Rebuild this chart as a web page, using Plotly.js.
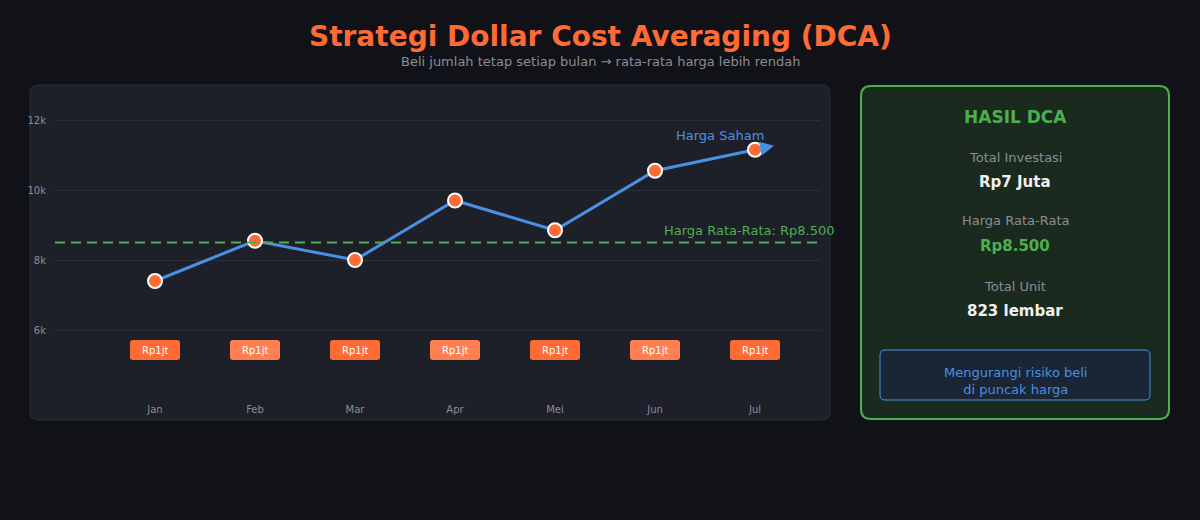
<!DOCTYPE html>
<html>
<head>
<meta charset="utf-8">
<script src="https://cdn.plot.ly/plotly-3.0.1.min.js"></script>
<style>
  html, body { margin: 0; padding: 0; background: #111217; }
  #chart { width: 1200px; height: 520px; }
</style>
</head>
<body>
<div id="chart"></div>
<script>
// Monthly share price over the DCA period
const months = ['Jan', 'Feb', 'Mar', 'Apr', 'Mei', 'Jun', 'Jul'];
const prices = [7400, 8550, 8000, 9700, 8850, 10550, 11150];
// Fixed monthly purchase (in juta rupiah)
const monthlyBuy = [1, 1, 1, 1, 1, 1, 1];
// Average purchase price and summary figures
const avgPrice = 8500;
const totalInvestJuta = 7;
const totalUnits = 823;
const yTicks = [6000, 8000, 10000, 12000];
const yTickText = ['6k', '8k', '10k', '12k'];

const W = 1200, H = 520;
const FONT = 'DejaVu Sans, sans-serif';

// convert page pixels to paper fractions
const px = v => v / W;
const py = v => 1 - v / H;

// rounded rectangle path in paper units, from pixel box
function roundRect(x0, y0, x1, y1, r) {
  const X = v => px(v).toFixed(5), Y = v => py(v).toFixed(5);
  return `M${X(x0 + r)},${Y(y0)} L${X(x1 - r)},${Y(y0)} Q${X(x1)},${Y(y0)} ${X(x1)},${Y(y0 + r)} ` +
         `L${X(x1)},${Y(y1 - r)} Q${X(x1)},${Y(y1)} ${X(x1 - r)},${Y(y1)} ` +
         `L${X(x0 + r)},${Y(y1)} Q${X(x0)},${Y(y1)} ${X(x0)},${Y(y1 - r)} ` +
         `L${X(x0)},${Y(y0 + r)} Q${X(x0)},${Y(y0)} ${X(x0 + r)},${Y(y0)} Z`;
}
// rounded rectangle path in pixels around an anchor
function pixRoundRect(w, h, r) {
  const a = w / 2, b = h / 2;
  return `M${-a + r},${-b} L${a - r},${-b} Q${a},${-b} ${a},${-b + r} L${a},${b - r} Q${a},${b} ${a - r},${b} ` +
         `L${-a + r},${b} Q${-a},${b} ${-a},${b - r} L${-a},${-b + r} Q${-a},${-b} ${-a + r},${-b} Z`;
}

const badgeColors = months.map((m, i) => i % 2 === 0 ? '#ff6b35' : '#ff7f50');
const badgeY = py(350);

const shapes = [
  // chart panel
  { type: 'path', xref: 'paper', yref: 'paper', layer: 'below', path: roundRect(30, 85, 830, 420, 8),
    fillcolor: '#1e2029', line: { color: '#2b2e38', width: 1 } },
  // summary panel
  { type: 'path', xref: 'paper', yref: 'paper', layer: 'below', path: roundRect(861, 86, 1169, 419, 10),
    fillcolor: '#1b2a1e', line: { color: '#4caf50', width: 2 } },
  // note box
  { type: 'path', xref: 'paper', yref: 'paper', layer: 'below', path: roundRect(880, 350, 1150, 400, 5),
    fillcolor: '#1a2535', line: { color: '#4a90e2', width: 1 } },
  // average price line
  { type: 'line', xref: 'paper', yref: 'y', x0: px(55), x1: px(821), y0: avgPrice, y1: avgPrice,
    line: { color: '#4caf50', width: 2, dash: '10px,6px' } }
];

// monthly purchase badges
months.forEach((m, i) => {
  shapes.push({
    type: 'path', xref: 'x', yref: 'paper', xsizemode: 'pixel', ysizemode: 'pixel',
    xanchor: m, yanchor: badgeY, path: pixRoundRect(50, 20, 3),
    fillcolor: badgeColors[i], line: { width: 0 }
  });
});

// centred text helper for page-positioned labels
function label(x, y, text, size, color) {
  return { xref: 'paper', yref: 'paper', x: px(x), y: py(y), xanchor: 'center', yanchor: 'middle',
           text: text, showarrow: false, font: { family: FONT, size: size, color: color } };
}

const annotations = [
  label(600, 37, '<b>Strategi Dollar Cost Averaging (DCA)</b>', 28, '#ff6b35'),
  label(600, 61, 'Beli jumlah tetap setiap bulan → rata-rata harga lebih rendah', 13, '#8a8d96'),
  // series label next to the last point
  { xref: 'x', yref: 'y', x: months[months.length - 1], y: prices[prices.length - 1], xshift: -35, yshift: 14,
    xanchor: 'center', yanchor: 'middle',
    text: 'Harga Saham', showarrow: false, font: { family: FONT, size: 13, color: '#4a90e2' } },
  // average line label
  { xref: 'paper', yref: 'y', x: px(836), y: avgPrice, xanchor: 'right', yanchor: 'bottom', yshift: 3,
    text: 'Harga Rata-Rata: Rp' + avgPrice.toLocaleString('id-ID'), showarrow: false,
    font: { family: FONT, size: 13, color: '#4caf50' } },
  // summary panel text
  label(1015, 117, '<b>HASIL DCA</b>', 17, '#4caf50'),
  label(1015, 157, 'Total Investasi', 13, '#8a8d96'),
  label(1015, 182, '<b>Rp' + totalInvestJuta + ' Juta</b>', 15, '#f0f0f0'),
  label(1015, 220, 'Harga Rata-Rata', 13, '#8a8d96'),
  label(1015, 246, '<b>Rp' + avgPrice.toLocaleString('id-ID') + '</b>', 15, '#4caf50'),
  label(1015, 286, 'Total Unit', 13, '#8a8d96'),
  label(1015, 311, '<b>' + totalUnits + ' lembar</b>', 15, '#f0f0f0'),
  label(1015, 381, 'Mengurangi risiko beli<br>di puncak harga', 13, '#4a90e2')
];

// badge labels
months.forEach((m, i) => {
  annotations.push({
    xref: 'x', yref: 'paper', x: m, y: badgeY, xanchor: 'center', yanchor: 'middle',
    text: 'Rp' + monthlyBuy[i] + 'jt', showarrow: false,
    font: { family: FONT, size: 10, color: '#ffffff' }
  });
});

// direction arrow continuing the last segment
const n = prices.length;
const ext = 0.19;
annotations.push({
  xref: 'x', yref: 'y', x: (n - 1) + ext, y: prices[n - 1] + ext * (prices[n - 1] - prices[n - 2]),
  axref: 'x', ayref: 'y', ax: n - 1 + 0.07, ay: prices[n - 1] + 0.07 * (prices[n - 1] - prices[n - 2]),
  showarrow: true, arrowhead: 2, arrowsize: 1.4, arrowwidth: 2, arrowcolor: '#4a90e2', text: ''
});

const trace = {
  type: 'scatter', mode: 'lines+markers', x: months, y: prices,
  line: { color: '#4a90e2', width: 3 },
  marker: { color: '#ff6b35', size: 14, line: { color: '#ffffff', width: 2 } },
  hoverinfo: 'x+y'
};

const layout = {
  width: W, height: H,
  margin: { l: 0, r: 0, t: 0, b: 0 },
  paper_bgcolor: '#111217', plot_bgcolor: 'rgba(0,0,0,0)',
  showlegend: false,
  font: { family: FONT, color: '#8a8d96' },
  xaxis: {
    type: 'category', domain: [px(55), px(821)], range: [-1, 6.66],
    showgrid: false, zeroline: false, showline: false, ticks: '',
    ticklabelposition: 'inside', ticklabelstandoff: 2,
    tickfont: { family: FONT, size: 10, color: '#8a8d96' }
  },
  yaxis: {
    domain: [py(420), py(90)], range: [6000 - 90 / 35 * 1000, 12000 + 30 / 35 * 1000],
    tickvals: yTicks, ticktext: yTickText, showgrid: true, gridcolor: '#2c2f3a', gridwidth: 1,
    zeroline: false, showline: false, ticks: '', ticklabelstandoff: 8,
    tickfont: { family: FONT, size: 10, color: '#8a8d96' }
  },
  shapes: shapes,
  annotations: annotations
};

Plotly.newPlot('chart', [trace], layout, { displayModeBar: false, staticPlot: true });
</script>
</body>
</html>
